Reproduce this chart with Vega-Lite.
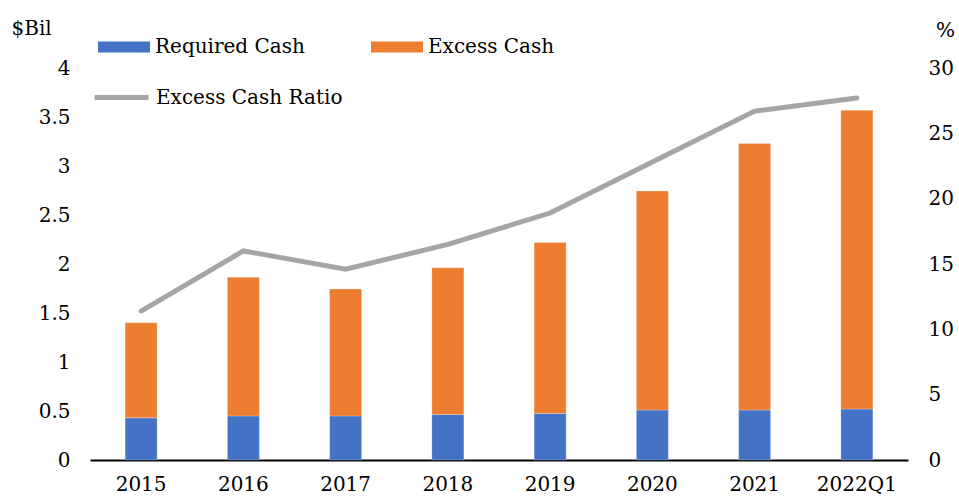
{
  "$schema": "https://vega.github.io/schema/vega-lite/v6.json",
  "width": 818,
  "height": 392,
  "autosize": {"type": "none"},
  "padding": {"left": 90, "top": 68, "right": 51, "bottom": 37},
  "background": "white",
  "config": {
    "view": {"stroke": null},
    "font": "DejaVu Serif",
    "axis": {"labelFont": "DejaVu Serif", "labelFontSize": 20, "labelColor": "#000", "grid": false, "ticks": false, "tickSize": 0, "titleFont": "DejaVu Serif", "titleFontSize": 20, "titleFontWeight": "normal", "titleColor": "#000"},
    "legend": {"labelFont": "DejaVu Serif", "labelFontSize": 20, "labelColor": "#000", "labelLimit": 400}
  },
  "datasets": {
    "bars": [
      {"year": "2015", "type": "Required Cash", "value": 0.43},
      {"year": "2015", "type": "Excess Cash", "value": 0.97},
      {"year": "2016", "type": "Required Cash", "value": 0.45},
      {"year": "2016", "type": "Excess Cash", "value": 1.415},
      {"year": "2017", "type": "Required Cash", "value": 0.45},
      {"year": "2017", "type": "Excess Cash", "value": 1.295},
      {"year": "2018", "type": "Required Cash", "value": 0.465},
      {"year": "2018", "type": "Excess Cash", "value": 1.497},
      {"year": "2019", "type": "Required Cash", "value": 0.475},
      {"year": "2019", "type": "Excess Cash", "value": 1.745},
      {"year": "2020", "type": "Required Cash", "value": 0.51},
      {"year": "2020", "type": "Excess Cash", "value": 2.235},
      {"year": "2021", "type": "Required Cash", "value": 0.51},
      {"year": "2021", "type": "Excess Cash", "value": 2.72},
      {"year": "2022Q1", "type": "Required Cash", "value": 0.52},
      {"year": "2022Q1", "type": "Excess Cash", "value": 3.05}
    ],
    "ratio": [
      {"year": "2015", "ratio": 11.4},
      {"year": "2016", "ratio": 16.0},
      {"year": "2017", "ratio": 14.6},
      {"year": "2018", "ratio": 16.5},
      {"year": "2019", "ratio": 18.9},
      {"year": "2020", "ratio": 22.8},
      {"year": "2021", "ratio": 26.7},
      {"year": "2022Q1", "ratio": 27.7}
    ]
  },
  "encoding": {
    "x": {
      "field": "year", "type": "nominal", "sort": null,
      "scale": {"paddingInner": 0, "paddingOuter": 0},
      "axis": {"title": null, "labelAngle": 0, "labelPadding": 14, "domainColor": "#000", "domainWidth": 2}
    }
  },
  "layer": [
    {
      "data": {"name": "bars"},
      "mark": {"type": "bar", "size": 32, "stroke": "#ffffff", "strokeWidth": 0.5, "strokeOpacity": 0.5},
      "encoding": {
        "y": {
          "field": "value", "type": "quantitative", "stack": "zero",
          "scale": {"domain": [0, 4], "nice": false},
          "axis": {"values": [0, 0.5, 1, 1.5, 2, 2.5, 3, 3.5, 4], "format": "~g", "domain": false, "labelPadding": 20, "title": "$Bil", "titleAngle": 0, "titleAlign": "left", "titleBaseline": "middle", "titleX": -79, "titleY": -40}
        },
        "color": {
          "field": "type", "type": "nominal",
          "sort": ["Required Cash", "Excess Cash"],
          "scale": {"domain": ["Required Cash", "Excess Cash"], "range": ["#4472C4", "#ED7D31"]},
          "legend": {"title": null, "orient": "none", "legendX": 8, "legendY": -47, "direction": "horizontal", "columns": 2, "columnPadding": 66, "symbolType": "M-1,-0.21H1V0.21H-1Z", "symbolSize": 2704, "symbolStrokeWidth": 0, "labelOffset": 5}
        },
        "order": {"field": "type", "sort": "descending"}
      }
    },
    {
      "data": {"name": "ratio"},
      "mark": {"type": "line", "strokeWidth": 5, "strokeCap": "round", "strokeJoin": "miter"},
      "encoding": {
        "y": {
          "field": "ratio", "type": "quantitative",
          "scale": {"domain": [0, 30], "nice": false},
          "axis": {"orient": "right", "values": [0, 5, 10, 15, 20, 25, 30], "domain": false, "labelPadding": 20, "labelAlign": "left", "title": "%", "titleAngle": 0, "titleAlign": "center", "titleBaseline": "middle", "titleX": 37, "titleY": -38}
        },
        "stroke": {
          "datum": "Excess Cash Ratio",
          "scale": {"range": ["#A5A5A5"]},
          "legend": {"title": null, "orient": "none", "legendX": 2, "legendY": 0, "symbolType": "stroke", "symbolSize": 2916, "symbolStrokeWidth": 5, "labelOffset": 5}
        }
      }
    }
  ],
  "resolve": {"scale": {"y": "independent"}}
}
